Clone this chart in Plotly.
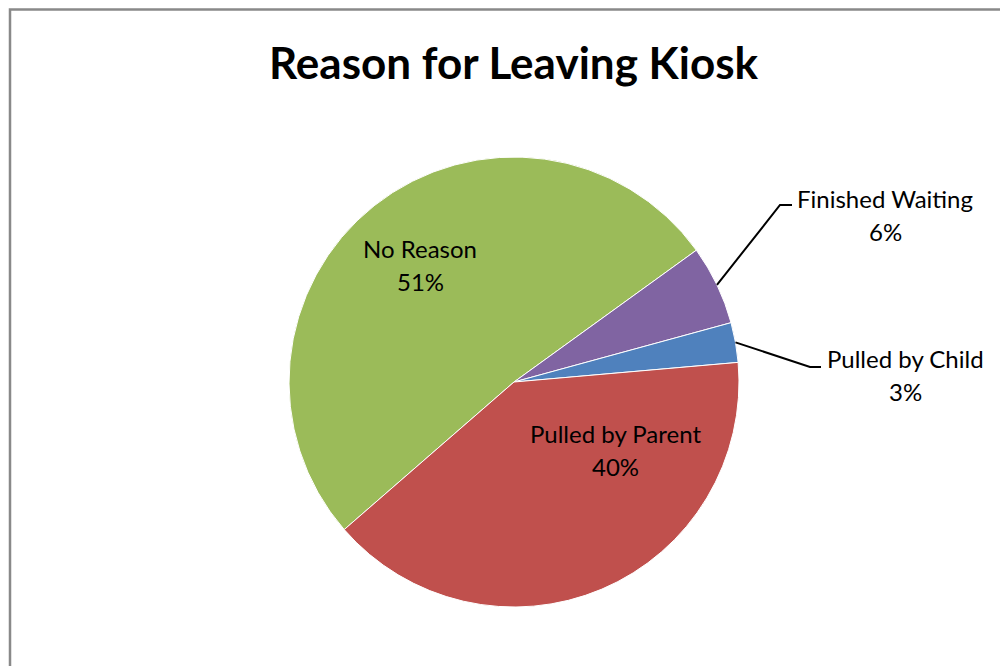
import math
import plotly.graph_objects as go

# ---- data ----
categories = ["No Reason", "Finished Waiting", "Pulled by Child", "Pulled by Parent"]
counts = [18, 2, 1, 14]
colors = ["#9BBB59", "#8064A2", "#4F81BD", "#C0504D"]
title_text = "Reason for Leaving Kiosk"

W, H = 1008, 666
OFF = 8  # page body margin in the browser
ROT = 229  # start angle of first slice (degrees clockwise from 12 o'clock)

# pie geometry in page pixels: centre (514, 382), radius 225
pie_cx, pie_cy, pie_r = 514, 382, 225
dom_x = [(pie_cx - OFF) * 2 / W - 1.0, 1.0]
dom_y = [1 - (pie_cy + pie_r - OFF) / H, 1 - (pie_cy - pie_r - OFF) / H]
cx, cy, R = pie_cx, pie_cy, pie_r


def px(x):
    return (x - OFF) / W


def py(y):
    return 1 - (y - OFF) / H


total = sum(counts)
pcts = [round(100 * c / total) for c in counts]

# mid angles of slices
mids = []
a = ROT
for c in counts:
    span = 360 * c / total
    mids.append(a + span / 2)
    a += span

fig = go.Figure(
    go.Pie(
        labels=categories,
        values=counts,
        sort=False,
        direction="clockwise",
        rotation=ROT,
        marker=dict(colors=colors, line=dict(color="#FFFFFF", width=1)),
        textinfo="none",
        hoverinfo="label+percent",
        domain=dict(x=dom_x, y=dom_y),
        showlegend=False,
    )
)

# label placement (page-pixel centres of first text line) and leader-line elbows
label_pos = {
    "No Reason": (420, 248),
    "Pulled by Parent": (615, 433),
    "Finished Waiting": (885, 198),
    "Pulled by Child": (905, 358),
}
elbows = {
    "Finished Waiting": [(780, 205), (792, 205)],
    "Pulled by Child": [(810, 367), (821, 367)],
}

FONT = "Lato, 'Open Sans', sans-serif"
LBL_SIZE = 24
LINE_GAP = 33

annotations = []
shapes = []
for name, pct, mid in zip(categories, pcts, mids):
    lx, ly = label_pos[name]
    annotations.append(dict(x=px(lx), y=py(ly), xref="paper", yref="paper",
                            text=name, showarrow=False,
                            font=dict(family=FONT, size=LBL_SIZE, color="#000000"),
                            xanchor="center", yanchor="middle"))
    annotations.append(dict(x=px(lx), y=py(ly + LINE_GAP), xref="paper", yref="paper",
                            text=f"{pct}%", showarrow=False,
                            font=dict(family=FONT, size=LBL_SIZE, color="#000000"),
                            xanchor="center", yanchor="middle"))
    if name in elbows:
        th = math.radians(mid)
        sx = cx + R * math.sin(th)
        sy = cy - R * math.cos(th)
        pts = [(sx, sy)] + elbows[name]
        path = "M " + " L ".join(f"{px(x):.5f},{py(y):.5f}" for x, y in pts)
        shapes.append(dict(type="path", xref="paper", yref="paper", path=path,
                           line=dict(color="#000000", width=2)))

# chart-area border (cropped at right and bottom)
shapes.append(dict(type="rect", xref="paper", yref="paper",
                   x0=px(10), x1=px(W + 30), y0=py(H + 30), y1=py(9.5),
                   line=dict(color="#898989", width=2.5), fillcolor="rgba(0,0,0,0)"))

annotations.append(dict(x=px(514), y=py(62), xref="paper", yref="paper",
                        text=f"<b>{title_text}</b>", showarrow=False,
                        font=dict(family=FONT, size=44, color="#000000"),
                        xanchor="center", yanchor="middle"))

fig.update_layout(
    width=W, height=H,
    margin=dict(l=0, r=0, t=0, b=0),
    paper_bgcolor="#FFFFFF",
    plot_bgcolor="#FFFFFF",
    annotations=annotations,
    shapes=shapes,
)

fig.write_html("out.html")
